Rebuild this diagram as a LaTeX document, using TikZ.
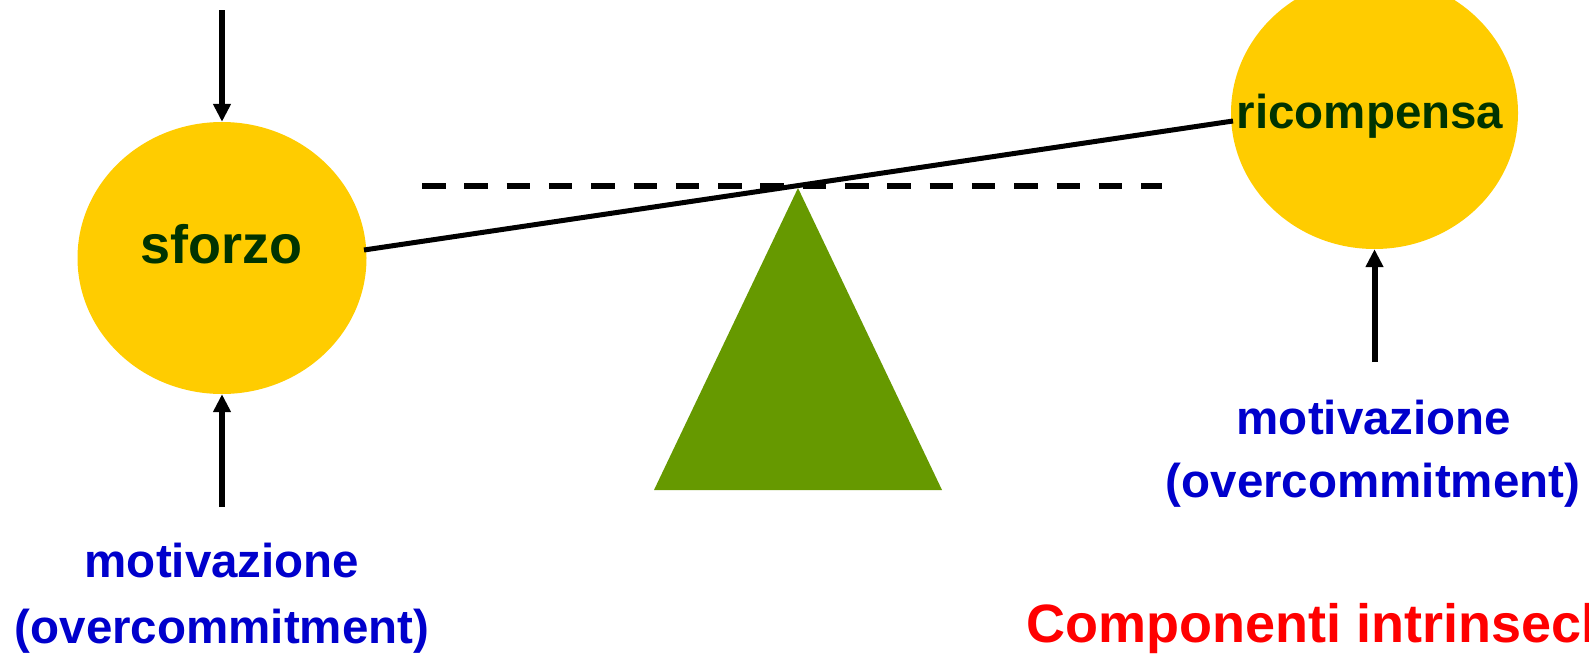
\documentclass[tikz,border=0pt]{standalone}
\usepackage{fontspec}
\setmainfont{Liberation Sans}
\usetikzlibrary{shapes.geometric,arrows.meta}
\definecolor{gold}{HTML}{FFCC00}
\definecolor{darkgreen}{HTML}{003300}
\definecolor{trigreen}{HTML}{669900}
\definecolor{textblue}{HTML}{0000CC}
\definecolor{textred}{HTML}{FF0000}
\begin{document}
\begin{tikzpicture}[x=1pt,y=-1pt,
  ball/.style={ellipse, fill=gold, draw=none, inner sep=0pt, minimum width=289pt, minimum height=272pt},
  balltext/.style={anchor=base, inner sep=0pt, text=darkgreen, font=\bfseries},
  bluetext/.style={anchor=base, inner sep=0pt, text=textblue, font=\fontsize{47.5}{57}\selectfont\bfseries},
  redtext/.style={anchor=base west, inner sep=0pt, text=textred, font=\fontsize{54}{64}\selectfont\bfseries},
  arr/.style={line width=6pt, -{Triangle[width=17pt,length=18pt]}},
  beam/.style={line width=5pt},
  level/.style={line width=6pt, dash pattern=on 23.5pt off 18.8pt},
  tri/.style={fill=trigreen}
]
\useasboundingbox (0,0) rectangle (1589,653);
% balls
\node[ball] (sf) at (222,258) {};
\node[ball, minimum width=287pt] (rc) at (1374.5,113) {};
\node[balltext, font=\fontsize{54}{64}\selectfont\bfseries] (sftext) at (221,263) {sforzo};
\node[balltext, font=\fontsize{47.5}{57}\selectfont\bfseries] (rctext) at (1370,128) {ricompensa};
% level line and fulcrum
\coordinate (lvA) at (422,186);
\coordinate (lvB) at (1162,186);
\draw[level] (lvA) -- (lvB);
\fill[tri] (654,490) -- (798,188) -- (942,490) -- cycle;
% beam
\coordinate (beamL) at (364,250);
\coordinate (beamR) at (1233,121);
\draw[beam] (beamL) -- (beamR);
% arrows
\coordinate (topstart) at (222,10);
\coordinate (botstart) at (222,507);
\coordinate (rstart) at (1374.5,362);
\draw[arr] (topstart) -- (sf.north);
\draw[arr] (botstart) -- (sf.south);
\draw[arr] (rstart) -- (rc.south);
% labels
\node[bluetext] (lmot) at (222,577) {motivazione};
\node[bluetext] (lover) at (222,643) {(overcommitment)};
\node[bluetext] (rmot) at (1374,434) {motivazione};
\node[bluetext] (rover) at (1373,497) {(overcommitment)};
\node[redtext] (comp) at (1026,642) {Componenti intrinseche};
\end{tikzpicture}
\end{document}
